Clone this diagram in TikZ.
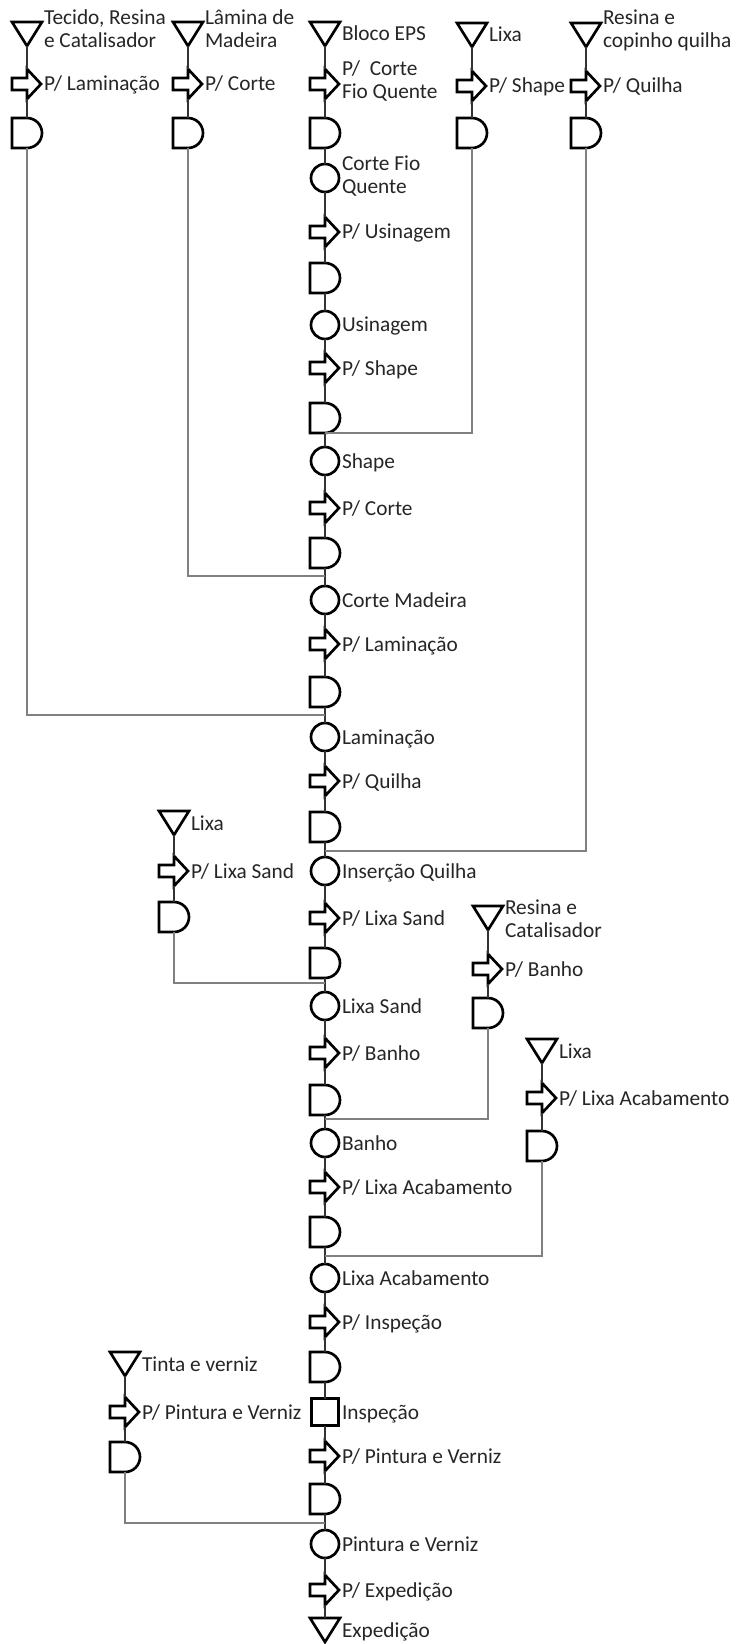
\documentclass[tikz,border=0pt]{standalone}
\usepackage{fontspec}
\setmainfont{Carlito}
\begin{document}
\begin{tikzpicture}[x=0.75pt,y=-0.75pt,
  outl/.style={draw=black,line width=2pt,line join=miter},
  base/.style={inner sep=0pt,outer sep=0pt,draw=none},
  % storage / stock: downward triangle
  stockshp/.style={base,minimum width=22.5pt,minimum height=18pt,
    append after command={\pgfextra{\let\shpnode\tikzlastnode
      \draw[outl] (\shpnode.north west) -- (\shpnode.north east) -- (\shpnode.south) -- cycle;}}},
  % transport: block arrow, head base on the column axis
  moveshp/.style={base,minimum width=22.5pt,minimum height=22.5pt,
    append after command={\pgfextra{\let\shpnode\tikzlastnode
      \draw[outl] ([shift={(-15,-6)}]\shpnode.center) -- ++(15,0) -- ++(0,-9)
        -- ++(14,15) -- ++(-14,15) -- ++(0,-9) -- ++(-15,0) -- cycle;}}},
  % delay: D shape
  delayshp/.style={base,minimum width=22.5pt,minimum height=22.5pt,
    append after command={\pgfextra{\let\shpnode\tikzlastnode
      \draw[outl] ([shift={(-15,-15)}]\shpnode.center) -- ++(15,0) arc (-90:90:15)
        -- ++(-15,0) -- cycle;}}},
  opshp/.style={base,circle,draw=black,line width=2pt,minimum size=21pt},
  inspshp/.style={base,rectangle,draw=black,line width=2pt,minimum size=20.25pt},
  link/.style={draw=black!80,line width=1.1pt},
  feed/.style={draw=black!50,line width=1.3pt},
  lbl/.style={anchor=west,inner sep=0pt,outer sep=0pt,text=black!85,
    font=\fontsize{16pt}{17.25pt}\selectfont,text height=10.5pt,text depth=0pt},
  lblii/.style={anchor=west,inner sep=0pt,outer sep=0pt,text=black!85,
    font=\fontsize{16pt}{17.25pt}\selectfont,align=left},
]
\fill[white] (0,0) rectangle (735,1644);
\useasboundingbox (0,0) rectangle (735,1644);

% ---------------- main process column ----------------
\node[stockshp] (m0) at (325,34) {};
\node[moveshp]  (m1) at (325,84) {};
\node[delayshp] (m2) at (325,133) {};
\node[opshp]    (m3) at (325,178) {};
\node[moveshp]  (m4) at (325,232) {};
\node[delayshp] (m5) at (325,278) {};
\node[opshp]    (m6) at (325,325) {};
\node[moveshp]  (m7) at (325,368) {};
\node[delayshp] (m8) at (325,418) {};
\node[opshp]    (m9) at (325,461) {};
\node[moveshp]  (m10) at (325,508) {};
\node[delayshp] (m11) at (325,553) {};
\node[opshp]    (m12) at (325,600) {};
\node[moveshp]  (m13) at (325,644) {};
\node[delayshp] (m14) at (325,692) {};
\node[opshp]    (m15) at (325,737) {};
\node[moveshp]  (m16) at (325,781) {};
\node[delayshp] (m17) at (325,827) {};
\node[opshp]    (m18) at (325,871) {};
\node[moveshp]  (m19) at (325,918) {};
\node[delayshp] (m20) at (325,963) {};
\node[opshp]    (m21) at (325,1006) {};
\node[moveshp]  (m22) at (325,1053) {};
\node[delayshp] (m23) at (325,1100) {};
\node[opshp]    (m24) at (325,1143) {};
\node[moveshp]  (m25) at (325,1187) {};
\node[delayshp] (m26) at (325,1232) {};
\node[opshp]    (m27) at (325,1278) {};
\node[moveshp]  (m28) at (325,1322) {};
\node[delayshp] (m29) at (325,1367) {};
\node[inspshp]  (m30) at (325,1412) {};
\node[moveshp]  (m31) at (325,1456) {};
\node[delayshp] (m32) at (325,1499) {};
\node[opshp]    (m33) at (325,1544) {};
\node[moveshp]  (m34) at (325,1590) {};
\node[stockshp] (m35) at (325,1630) {};

\foreach \i [count=\j] in {0,...,34}
  \draw[link] (m\i.south) -- (m\j.north);

\node[lbl]   (lm0)  at ([xshift=12.75pt]m0.center) {Bloco EPS};
\node[lblii] (lm1)  at ([xshift=12.75pt,yshift=2.25pt]m1.center) {P/~ Corte\\Fio Quente};
\node[lblii] (lm3)  at ([xshift=12.75pt,yshift=1.5pt]m3.center) {Corte Fio\\Quente};
\node[lbl]   (lm4)  at ([xshift=12.75pt]m4.center) {P/ Usinagem};
\node[lbl]   (lm6)  at ([xshift=12.75pt]m6.center) {Usinagem};
\node[lbl]   (lm7)  at ([xshift=12.75pt]m7.center) {P/ Shape};
\node[lbl]   (lm9)  at ([xshift=12.75pt]m9.center) {Shape};
\node[lbl]   (lm10) at ([xshift=12.75pt]m10.center) {P/ Corte};
\node[lbl]   (lm12) at ([xshift=12.75pt]m12.center) {Corte Madeira};
\node[lbl]   (lm13) at ([xshift=12.75pt]m13.center) {P/ Laminação};
\node[lbl]   (lm15) at ([xshift=12.75pt]m15.center) {Laminação};
\node[lbl]   (lm16) at ([xshift=12.75pt]m16.center) {P/ Quilha};
\node[lbl]   (lm18) at ([xshift=12.75pt]m18.center) {Inserção Quilha};
\node[lbl]   (lm19) at ([xshift=12.75pt]m19.center) {P/ Lixa Sand};
\node[lbl]   (lm21) at ([xshift=12.75pt]m21.center) {Lixa Sand};
\node[lbl]   (lm22) at ([xshift=12.75pt]m22.center) {P/ Banho};
\node[lbl]   (lm24) at ([xshift=12.75pt]m24.center) {Banho};
\node[lbl]   (lm25) at ([xshift=12.75pt]m25.center) {P/ Lixa Acabamento};
\node[lbl]   (lm27) at ([xshift=12.75pt]m27.center) {Lixa Acabamento};
\node[lbl]   (lm28) at ([xshift=12.75pt]m28.center) {P/ Inspeção};
\node[lbl]   (lm30) at ([xshift=12.75pt]m30.center) {Inspeção};
\node[lbl]   (lm31) at ([xshift=12.75pt]m31.center) {P/ Pintura e Verniz};
\node[lbl]   (lm33) at ([xshift=12.75pt]m33.center) {Pintura e Verniz};
\node[lbl]   (lm34) at ([xshift=12.75pt]m34.center) {P/ Expedição};
\node[lbl]   (lm35) at ([xshift=12.75pt]m35.center) {Expedição};

% junctions on the main line
\coordinate (j1) at (325,433);
\coordinate (j2) at (325,576);
\coordinate (j3) at (325,715);
\coordinate (j4) at (325,851);
\coordinate (j5) at (325,983);
\coordinate (j6) at (325,1119);
\coordinate (j7) at (325,1256);
\coordinate (j8) at (325,1523);

% ---------------- feeder columns ----------------
% Tecido, Resina e Catalisador
\node[stockshp] (a0) at (27,34) {};
\node[moveshp]  (a1) at (27,84) {};
\node[delayshp] (a2) at (27,133) {};
\node[lblii] (la0) at ([xshift=12.75pt,yshift=3.75pt]a0.center) {Tecido, Resina\\e Catalisador};
\node[lbl]   (la1) at ([xshift=12.75pt]a1.center) {P/ Laminação};
% Lâmina de Madeira
\node[stockshp] (b0) at (188,34) {};
\node[moveshp]  (b1) at (188,84) {};
\node[delayshp] (b2) at (188,133) {};
\node[lblii] (lb0) at ([xshift=12.75pt,yshift=3.75pt]b0.center) {Lâmina de\\Madeira};
\node[lbl]   (lb1) at ([xshift=12.75pt]b1.center) {P/ Corte};
% Lixa (shape)
\node[stockshp] (c0) at (472,35) {};
\node[moveshp]  (c1) at (472,86) {};
\node[delayshp] (c2) at (472,133) {};
\node[lbl]   (lc0) at ([xshift=12.75pt]c0.center) {Lixa};
\node[lbl]   (lc1) at ([xshift=12.75pt]c1.center) {P/ Shape};
% Resina e copinho quilha
\node[stockshp] (d0) at (586,35) {};
\node[moveshp]  (d1) at (586,86) {};
\node[delayshp] (d2) at (586,133) {};
\node[lblii] (ld0) at ([xshift=12.75pt,yshift=3.75pt]d0.center) {Resina e\\copinho quilha};
\node[lbl]   (ld1) at ([xshift=12.75pt]d1.center) {P/ Quilha};
% Lixa (sand)
\node[stockshp] (e0) at (174,823) {};
\node[moveshp]  (e1) at (174,871) {};
\node[delayshp] (e2) at (174,917) {};
\node[lbl]   (le0) at ([xshift=12.75pt]e0.center) {Lixa};
\node[lbl]   (le1) at ([xshift=12.75pt]e1.center) {P/ Lixa Sand};
% Resina e Catalisador
\node[stockshp] (f0) at (488,918) {};
\node[moveshp]  (f1) at (488,969) {};
\node[delayshp] (f2) at (488,1013) {};
\node[lblii] (lf0) at ([xshift=12.75pt,yshift=-0.75pt]f0.center) {Resina e\\Catalisador};
\node[lbl]   (lf1) at ([xshift=12.75pt]f1.center) {P/ Banho};
% Lixa (acabamento)
\node[stockshp] (g0) at (542,1051) {};
\node[moveshp]  (g1) at (542,1098) {};
\node[delayshp] (g2) at (542,1146) {};
\node[lbl]   (lg0) at ([xshift=12.75pt]g0.center) {Lixa};
\node[lbl]   (lg1) at ([xshift=12.75pt]g1.center) {P/ Lixa Acabamento};
% Tinta e verniz
\node[stockshp] (h0) at (125,1364) {};
\node[moveshp]  (h1) at (125,1412) {};
\node[delayshp] (h2) at (125,1457) {};
\node[lbl]   (lh0) at ([xshift=12.75pt]h0.center) {Tinta e verniz};
\node[lbl]   (lh1) at ([xshift=12.75pt]h1.center) {P/ Pintura e Verniz};

\foreach \c in {a,b,c,d,e,f,g,h}{
  \draw[link] (\c0.south) -- (\c1.north);
  \draw[link] (\c1.south) -- (\c2.north);
}

% feeds into the main line
\draw[feed] (c2.south) |- (j1);
\draw[feed] (b2.south) |- (j2);
\draw[feed] (a2.south) |- (j3);
\draw[feed] (d2.south) |- (j4);
\draw[feed] (e2.south) |- (j5);
\draw[feed] (f2.south) |- (j6);
\draw[feed] (g2.south) |- (j7);
\draw[feed] (h2.south) |- (j8);
\end{tikzpicture}
\end{document}
